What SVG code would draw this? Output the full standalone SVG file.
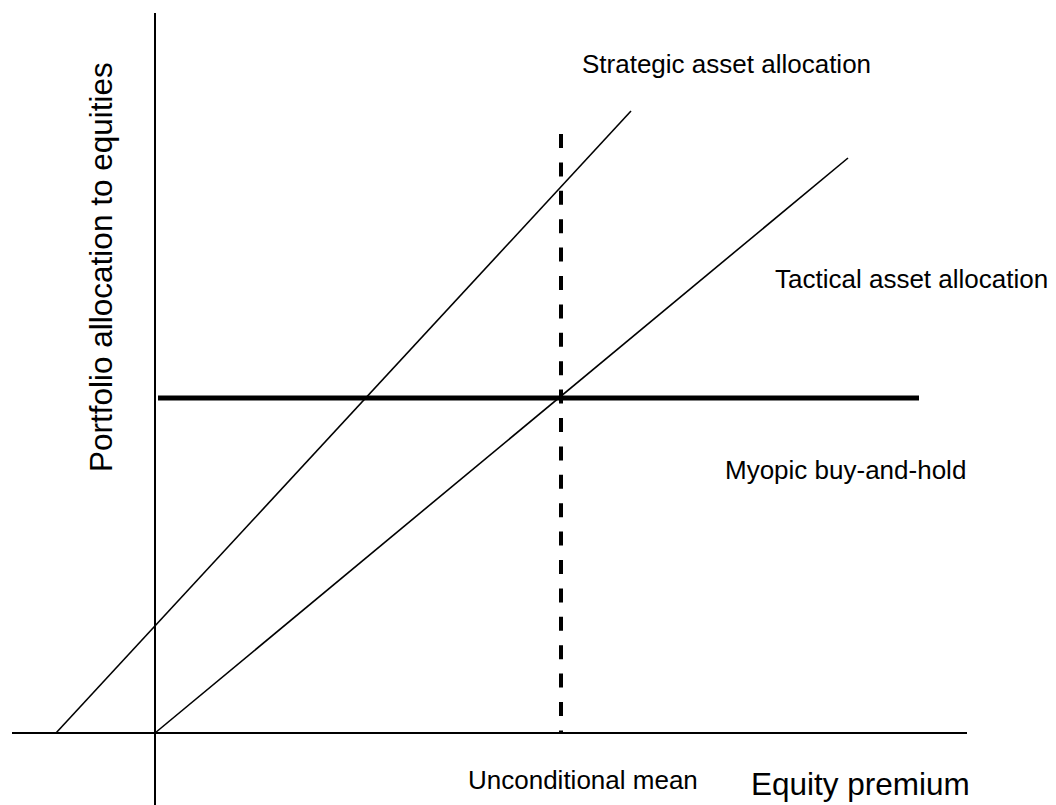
<svg xmlns="http://www.w3.org/2000/svg" width="1056" height="805" viewBox="0 0 1056 805">
<style>
.ax{stroke:#000;stroke-width:2;fill:none}
.ln{stroke:#000;stroke-width:1.6;fill:none}
.thick{stroke:#000;stroke-width:5;fill:none}
.dash{stroke:#000;stroke-width:4;stroke-dasharray:14 14.4;fill:none}
.lbl{font-family:"Liberation Sans",Arial,sans-serif;font-size:26px;fill:#000}
.big{font-family:"Liberation Sans",Arial,sans-serif;font-size:31.5px;fill:#000}
</style>
<rect width="1056" height="805" fill="#fff"/>
<g id="connectors">
<line id="x-axis" class="ax" x1="12" y1="733" x2="967" y2="733"/>
<line id="y-axis" class="ax" x1="155" y1="13" x2="155" y2="805"/>
<line id="strategic-line" class="ln" x1="56" y1="733" x2="631" y2="111"/>
<line id="tactical-line" class="ln" x1="155" y1="733" x2="848" y2="158"/>
<line id="myopic-line" class="thick" x1="158" y1="398" x2="919" y2="398"/>
<line id="mean-line" class="dash" x1="561" y1="134" x2="561" y2="733"/>
</g>
<g id="label-strategic"><text class="lbl" x="582" y="73">Strategic asset allocation</text></g>
<g id="label-tactical"><text class="lbl" x="775" y="288">Tactical asset allocation</text></g>
<g id="label-myopic"><text class="lbl" x="725" y="479">Myopic buy-and-hold</text></g>
<g id="label-mean"><text class="lbl" x="468" y="789">Unconditional mean</text></g>
<g id="label-xaxis"><text class="big" x="751" y="795">Equity premium</text></g>
<g id="label-yaxis"><text class="big" transform="translate(112,472) rotate(-90)">Portfolio allocation to equities</text></g>
</svg>
